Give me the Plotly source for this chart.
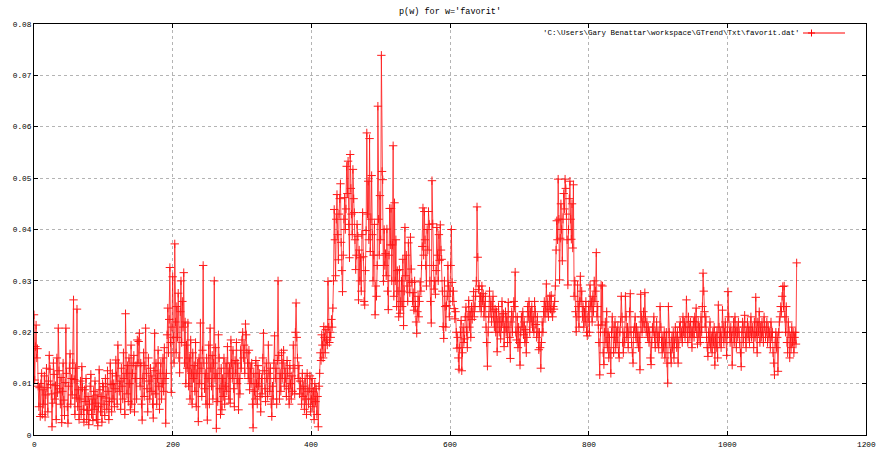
import plotly.graph_objects as go

# p(w) values in units of 1e-4, one value per index 0..1100
p_w_e4 = [
    234,107,172,214,150,168,95,55,92,36,
    100,120,40,88,60,115,35,78,130,92,
    45,105,155,128,98,80,16,62,140,118,
    70,96,30,150,82,208,125,90,60,112,
    24,85,140,68,38,102,208,120,55,23,
    95,130,158,60,110,78,140,263,108,40,
    130,72,245,55,88,30,70,105,40,133,
    92,50,25,88,65,110,30,48,75,20,
    60,95,118,40,70,28,85,50,105,62,
    30,78,18,55,127,88,45,75,25,100,
    94,60,38,110,72,50,125,85,30,65,
    140,98,45,120,70,100,55,90,146,115,
    60,175,140,85,105,50,130,95,70,160,
    110,40,236,120,80,135,65,150,100,49,
    175,60,120,140,155,45,110,135,70,185,
    140,182,198,95,140,60,29,110,160,75,
    135,208,120,90,45,150,105,70,130,85,
    115,60,33,125,198,80,140,60,110,165,
    95,50,120,140,70,100,150,85,170,110,
    23,120,195,247,160,225,326,180,83,210,
    308,190,140,372,220,160,250,190,276,150,
    121,240,300,180,260,210,316,140,220,100,
    175,130,218,95,150,70,185,120,60,160,
    110,135,85,180,55,120,140,26,150,100,
    218,130,75,165,330,140,90,120,60,150,
    29,110,175,60,208,130,95,155,70,140,
    300,110,170,13,120,65,195,150,90,40,
    130,49,110,75,150,60,95,140,85,172,
    120,70,130,62,185,140,110,165,90,55,
    145,120,180,100,140,49,110,80,165,130,
    185,200,150,175,120,216,195,160,140,110,
    165,88,130,100,140,60,14,120,85,70,
    145,100,60,135,95,120,75,45,110,80,
    150,198,125,90,65,140,110,75,175,120,
    85,130,60,36,95,70,140,193,110,130,
    60,145,300,155,70,120,85,160,110,140,
    165,95,130,110,75,145,120,90,60,135,
    100,70,115,85,175,130,80,200,257,190,
    150,110,135,80,105,90,60,120,75,95,
    50,110,70,40,120,85,60,90,115,45,
    70,110,55,85,30,100,65,90,40,75,
    16,95,120,160,145,195,175,150,211,190,
    160,205,185,175,299,210,180,200,190,225,
    210,247,300,439,380,310,420,468,390,341,
    430,460,489,375,320,279,350,420,462,400,
    440,523,470,533,410,345,546,480,430,390,
    517,460,433,380,322,350,410,387,263,360,
    300,345,280,390,433,347,260,253,320,398,
    588,430,494,380,577,357,420,505,390,300,
    350,410,234,290,270,330,640,420,350,466,
    380,739,513,497,299,400,330,353,310,401,
    280,244,350,441,370,441,300,370,563,270,
    452,300,380,250,320,280,230,322,237,260,
    300,250,342,213,280,404,310,350,290,260,
    374,300,277,385,323,297,260,277,243,300,
    250,220,198,240,270,230,260,298,280,330,
    367,442,350,435,380,330,290,400,360,435,
    410,300,260,218,495,411,330,284,300,274,
    320,404,350,300,390,340,409,360,342,280,
    211,188,300,250,210,252,270,330,290,230,
    280,330,400,297,260,280,246,226,240,200,
    169,190,150,128,170,200,223,125,160,210,
    180,187,230,249,200,170,230,262,210,240,
    190,250,225,240,279,230,250,270,300,444,
    346,283,290,250,270,240,290,260,275,230,
    250,270,210,180,134,200,230,280,240,260,
    220,250,270,230,210,245,200,240,162,220,
    250,200,230,187,210,260,220,236,172,210,
    240,200,230,180,258,210,190,149,220,240,
    200,230,260,250,317,200,185,230,170,210,
    180,136,200,230,210,240,195,220,180,205,
    160,190,250,230,260,200,240,220,250,210,
    230,200,260,240,215,190,230,200,166,200,
    170,130,180,220,200,240,260,230,250,294,
    240,260,230,250,270,245,272,240,230,250,
    245,260,290,360,417,380,498,420,302,383,
    450,400,339,420,470,440,498,480,430,380,
    292,400,460,494,420,381,450,364,487,270,
    300,240,201,230,292,250,210,260,309,260,
    280,230,250,210,240,220,260,200,193,230,
    250,200,292,250,260,220,270,240,300,260,
    280,355,230,250,214,180,117,200,292,214,
    290,160,137,200,220,180,240,170,200,150,
    190,160,120,200,230,210,160,190,220,170,
    200,180,210,160,150,200,220,270,230,180,
    160,200,180,270,230,190,210,170,200,240,
    275,200,180,160,140,200,210,230,190,210,
    180,200,170,190,127,274,230,200,220,240,
    210,277,230,200,220,190,210,180,200,150,
    137,180,210,200,230,190,170,200,220,180,
    200,170,190,250,210,180,160,190,170,200,
    150,180,200,140,101,250,200,180,160,140,
    190,170,200,150,180,210,190,170,200,140,
    180,210,220,190,200,180,230,200,220,190,
    210,263,200,180,230,210,190,220,200,170,
    200,221,190,230,210,247,200,177,220,190,
    210,180,230,200,250,315,280,240,210,230,
    190,170,153,200,180,220,170,190,160,200,
    180,210,136,190,170,200,150,253,210,180,
    200,170,190,243,210,180,200,220,190,155,
    200,279,230,200,180,210,190,136,200,220,
    180,230,200,170,210,190,220,200,180,160,
    133,200,220,180,210,233,190,170,200,220,
    190,210,180,200,230,190,210,200,170,220,
    190,268,200,160,220,200,240,180,210,190,
    220,200,180,230,210,190,200,220,180,210,
    190,200,170,220,190,200,160,140,117,180,
    200,170,190,124,200,220,230,250,240,270,
    289,250,290,230,200,250,180,160,220,200,
    150,190,170,210,180,200,160,190,200,177,
    335,
]
p_w = [v / 10000 for v in p_w_e4]
index = list(range(len(p_w)))

title_text = "p(w) for w='favorit'"
series_name = "'C:\\Users\\Gary Benattar\\workspace\\GTrend\\Txt\\favorit.dat'"
x_ticks = [0, 200, 400, 600, 800, 1000, 1200]
x_tick_labels = ["0", "200", "400", "600", "800", "1000", "1200"]
y_ticks = [0, 0.01, 0.02, 0.03, 0.04, 0.05, 0.06, 0.07, 0.08]
y_tick_labels = ["0", "0.01", "0.02", "0.03", "0.04", "0.05", "0.06", "0.07", "0.08"]

FONT = "Liberation Mono"
RED = "#ff0000"
W, H = 878, 452
ML, MR, MT, MB = 34, 12, 24, 17

fig = go.Figure()
fig.add_trace(go.Scatter(
    x=index, y=p_w, mode="lines+markers", name=series_name,
    line=dict(color=RED, width=0.8),
    marker=dict(symbol="cross-thin", size=6, line=dict(color=RED, width=1), color=RED),
    opacity=0.9,
    showlegend=False,
))

axis_common = dict(
    showline=True, linecolor="#000000", linewidth=1, mirror="ticks",
    ticks="inside", ticklen=4, tickcolor="#000000",
    showgrid=True, gridcolor="#b4b4b4", griddash="dot", gridwidth=1,
    zeroline=False, automargin=False,
    tickfont=dict(family=FONT, size=7.8, color="#000000"),
)

fig.update_layout(
    width=W, height=H,
    margin=dict(l=ML, r=MR, t=MT, b=MB, pad=0),
    paper_bgcolor="#ffffff", plot_bgcolor="#ffffff",
    title=dict(text=title_text, x=0.5, xref="paper", y=1 - 11 / H, yref="container",
               yanchor="middle", font=dict(family=FONT, size=8.5, color="#000000")),
    xaxis=dict(range=[0, 1200], tickvals=x_ticks, showticklabels=False, **axis_common),
    yaxis=dict(range=[0, 0.08], tickvals=y_ticks, ticktext=y_tick_labels, **axis_common),
)

pw = W - ML - MR
ph = H - MT - MB
def px(xpix):
    return (xpix - ML) / pw
def py(ypix):
    return (H - MB - ypix) / ph

# x tick labels (as annotations so the last one is not clipped)
for xv, lab in zip(x_ticks, x_tick_labels):
    fig.add_annotation(text=lab, xref="x", yref="paper", x=xv, y=py(445), yanchor="middle",
                       xanchor="center", showarrow=False,
                       font=dict(family=FONT, size=7.8, color="#000000"))

# legend (gnuplot style: text then sample on the right)
ly = py(33)
fig.add_annotation(text=series_name, xref="paper", yref="paper", x=px(802), y=ly,
                   xanchor="right", yanchor="middle", showarrow=False,
                   font=dict(family=FONT, size=7.5, color="#000000"))
fig.add_shape(type="line", xref="paper", yref="paper", x0=px(803), x1=px(845), y0=ly, y1=ly,
              line=dict(color=RED, width=1))
fig.add_shape(type="line", xref="paper", yref="paper", x0=px(808), x1=px(815), y0=ly, y1=ly,
              line=dict(color=RED, width=1))
fig.add_shape(type="line", xref="paper", yref="paper", x0=px(811.5), x1=px(811.5), y0=py(29.5), y1=py(36.5),
              line=dict(color=RED, width=1))

fig.write_html(
    "out.html",
    config={"displayModeBar": False},
    post_script="document.body.style.margin='0';document.body.style.overflow='hidden';",
)
